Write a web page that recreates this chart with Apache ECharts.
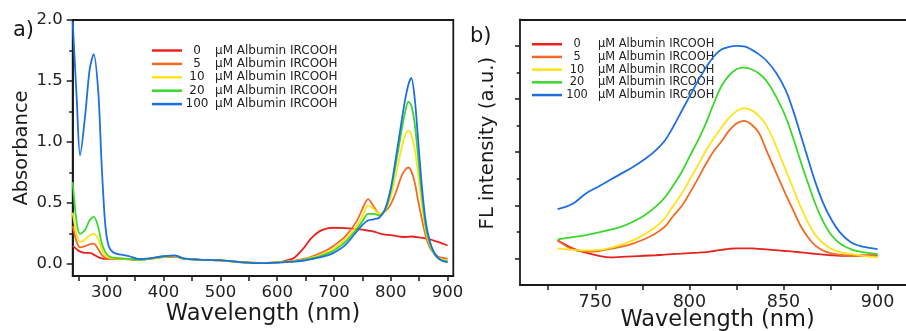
<!DOCTYPE html>
<html>
<head>
<meta charset="utf-8">
<script src="https://cdn.jsdelivr.net/npm/echarts@6/dist/echarts.min.js"></script>
<style>
  html, body { margin: 0; padding: 0; background: #fff; }
  #chart { width: 906px; height: 331px; }
</style>
</head>
<body>
<div id="chart"></div>
<script>
// Albumin concentrations (µM) and the legend text that follows them
const concentrations = ['0', '5', '10', '20', '100'];
const legendUnit = 'μM Albumin IRCOOH';
const lineColors = ['#e8231f', '#f26a24', '#ffe31a', '#3ad82c', '#1f6fe2'];

// (a) absorption spectra
const absWavelength = [240, 247, 253, 262, 270, 277, 285, 291, 297, 303,
  311, 325, 340, 355, 375, 400, 420, 435, 460, 500,
  540, 570, 600, 615, 630, 645, 660, 675, 690, 700,
  720, 740, 750, 760, 770, 780, 790, 800, 810, 818,
  825, 831, 836, 842, 848, 855, 862, 869, 876, 883,
  890, 900];
const abs0 = [0.15, 0.12, 0.10, 0.09, 0.09, 0.075, 0.055, 0.045, 0.04, 0.04,
  0.04, 0.04, 0.037, 0.032, 0.04, 0.055, 0.06, 0.042, 0.035, 0.028,
  0.012, 0.008, 0.012, 0.025, 0.05, 0.12, 0.21, 0.268, 0.292, 0.296,
  0.293, 0.285, 0.28, 0.272, 0.265, 0.25, 0.24, 0.235, 0.228, 0.222,
  0.22, 0.222, 0.224, 0.222, 0.218, 0.213, 0.207, 0.20, 0.19, 0.18,
  0.168, 0.15];
const abs5 = [0.31, 0.18, 0.135, 0.145, 0.16, 0.165, 0.12, 0.075, 0.05, 0.045,
  0.042, 0.04, 0.038, 0.032, 0.042, 0.058, 0.063, 0.042, 0.035, 0.028,
  0.012, 0.007, 0.012, 0.018, 0.025, 0.038, 0.058, 0.085, 0.12, 0.15,
  0.225, 0.35, 0.45, 0.53, 0.47, 0.41, 0.43, 0.49, 0.60, 0.71,
  0.77, 0.79, 0.76, 0.67, 0.52, 0.36, 0.22, 0.13, 0.085, 0.06,
  0.05, 0.04];
const abs10 = [0.42, 0.24, 0.18, 0.20, 0.235, 0.245, 0.20, 0.12, 0.07, 0.05,
  0.045, 0.042, 0.04, 0.032, 0.042, 0.058, 0.063, 0.042, 0.035, 0.028,
  0.012, 0.006, 0.011, 0.016, 0.022, 0.033, 0.05, 0.07, 0.10, 0.125,
  0.20, 0.31, 0.39, 0.48, 0.45, 0.41, 0.44, 0.55, 0.75, 0.93,
  1.05, 1.09, 1.06, 0.94, 0.74, 0.47, 0.26, 0.15, 0.085, 0.05,
  0.035, 0.028];
const abs20 = [0.67, 0.34, 0.245, 0.28, 0.36, 0.385, 0.30, 0.17, 0.10, 0.065,
  0.05, 0.045, 0.04, 0.032, 0.042, 0.06, 0.065, 0.042, 0.035, 0.028,
  0.012, 0.005, 0.01, 0.015, 0.02, 0.03, 0.045, 0.062, 0.088, 0.11,
  0.18, 0.285, 0.35, 0.41, 0.41, 0.395, 0.44, 0.60, 0.85, 1.07,
  1.24, 1.33, 1.30, 1.15, 0.88, 0.55, 0.29, 0.16, 0.085, 0.045,
  0.03, 0.022];
const abs100 = [1.99, 1.36, 0.89, 1.22, 1.60, 1.72, 1.41, 0.81, 0.34, 0.15,
  0.095, 0.075, 0.062, 0.04, 0.045, 0.062, 0.07, 0.045, 0.035, 0.03,
  0.012, 0.005, 0.01, 0.013, 0.018, 0.025, 0.038, 0.052, 0.072, 0.09,
  0.155, 0.265, 0.32, 0.355, 0.365, 0.38, 0.45, 0.62, 0.90, 1.14,
  1.34, 1.47, 1.525, 1.36, 1.02, 0.62, 0.33, 0.18, 0.095, 0.05,
  0.025, 0.012];

// (b) fluorescence emission spectra (arbitrary units)
const flWavelength = [730, 738, 745, 752, 758, 764, 770, 776, 782, 787,
  791, 796, 800, 805, 809, 813, 817, 821, 825, 829,
  833, 837, 841, 846, 851, 855, 859, 863, 867, 871,
  875, 880, 886, 892, 900];
const fl0 = [0.34, 0.19, 0.11, 0.05, 0.02, 0.03, 0.04, 0.05, 0.06, 0.07,
  0.08, 0.09, 0.10, 0.11, 0.12, 0.14, 0.16, 0.18, 0.19, 0.19,
  0.19, 0.18, 0.17, 0.155, 0.14, 0.13, 0.115, 0.10, 0.085, 0.07,
  0.06, 0.05, 0.05, 0.055, 0.06];
const fl5 = [0.34, 0.17, 0.13, 0.14, 0.18, 0.22, 0.28, 0.36, 0.47, 0.60,
  0.78, 0.99, 1.22, 1.53, 1.79, 2.02, 2.20, 2.40, 2.54, 2.59,
  2.52, 2.36, 2.03, 1.62, 1.22, 0.92, 0.62, 0.40, 0.24, 0.15,
  0.10, 0.065, 0.05, 0.05, 0.05];
const fl10 = [0.19, 0.16, 0.15, 0.16, 0.20, 0.26, 0.34, 0.45, 0.59, 0.76,
  0.97, 1.22, 1.47, 1.78, 2.04, 2.26, 2.46, 2.64, 2.77, 2.83,
  2.79, 2.68, 2.50, 2.12, 1.68, 1.33, 0.98, 0.68, 0.44, 0.29,
  0.19, 0.12, 0.08, 0.05, 0.02];
const fl20 = [0.36, 0.40, 0.44, 0.49, 0.54, 0.60, 0.69, 0.81, 0.97, 1.15,
  1.35, 1.63, 1.91, 2.25, 2.56, 2.92, 3.24, 3.44, 3.56, 3.59,
  3.56, 3.48, 3.34, 3.05, 2.68, 2.28, 1.84, 1.42, 1.02, 0.70,
  0.46, 0.28, 0.17, 0.12, 0.08];
const fl100 = [0.93, 1.03, 1.22, 1.36, 1.48, 1.60, 1.72, 1.86, 2.03, 2.22,
  2.45, 2.78, 3.04, 3.37, 3.60, 3.80, 3.93, 3.98, 4.00, 3.99,
  3.93, 3.84, 3.72, 3.50, 3.18, 2.80, 2.34, 1.88, 1.43, 1.05,
  0.76, 0.49, 0.30, 0.22, 0.175];

// tick positions
const absXLabels = [300, 400, 500, 600, 700, 800, 900];
const absXTicks = [250, 300, 350, 400, 450, 500, 550, 600, 650, 700, 750, 800, 850, 900];
const absYLabels = [0, 0.5, 1.0, 1.5, 2.0];
const absYMinor = [0.25, 0.75, 1.25, 1.75];
const flXLabels = [750, 800, 850, 900];
const flXTicks = [725, 750, 775, 800, 825, 850, 875, 900];
const flYMajor = [0, 1, 2, 3, 4];
const flYMinor = [0.5, 1.5, 2.5, 3.5];

const absSeriesValues = [abs0, abs5, abs10, abs20, abs100];
const flSeriesValues = [fl0, fl5, fl10, fl20, fl100];

const FONT = 'DejaVu Sans';
const INK = '#1a1a1a';
const pair = (xs, ys) => xs.map((x, i) => [x, ys[i]]);

// plot boxes
const boxA = { left: 72.7, top: 20, width: 380.6, height: 256 };
const boxB = { left: 520, top: 19.3, width: 395.2, height: 265.7 };

function legendFor(left, top, rowH, gap, size, numPad) {
  return {
    data: concentrations,
    orient: 'vertical',
    left: left, top: top,
    padding: 0,
    itemGap: gap,
    itemWidth: 30,
    itemHeight: 2.5,
    icon: 'rect',
    selectedMode: false,
    formatter: name => `{n|${name}}{t|${legendUnit}}`,
    textStyle: {
      fontFamily: FONT, fontSize: size, color: '#222', lineHeight: rowH,
      rich: {
        n: { width: 20, align: 'center', fontFamily: FONT, fontSize: size, color: '#222', lineHeight: rowH },
        t: { padding: [0, 0, 0, numPad], fontFamily: FONT, fontSize: size, color: '#222', lineHeight: rowH }
      }
    }
  };
}

const frameLine = { show: true, onZero: false, lineStyle: { color: INK, width: 1.8 } };

// shorter minor ticks: a second value axis moved onto the left edge of the box
function minorTickAxis(gridIndex, min, max, values, len, boxWidth) {
  return {
    type: 'value', gridIndex: gridIndex, min: min, max: max,
    position: 'right', offset: -boxWidth,
    axisLine: { show: false, onZero: false },
    axisTick: { show: true, inside: true, length: len, customValues: values, lineStyle: { color: INK, width: 1.5 } },
    axisLabel: { show: false },
    splitLine: { show: false }
  };
}

const series = [];
concentrations.forEach((c, i) => {
  series.push({
    name: c, type: 'line', xAxisIndex: 0, yAxisIndex: 0,
    data: pair(absWavelength, absSeriesValues[i]),
    showSymbol: false, smooth: 0.3,
    lineStyle: { color: lineColors[i], width: 1.8 },
    itemStyle: { color: lineColors[i] },
    z: 2 + i
  });
});
concentrations.forEach((c, i) => {
  series.push({
    name: c, type: 'line', xAxisIndex: 1, yAxisIndex: 2,
    data: pair(flWavelength, flSeriesValues[i]),
    showSymbol: false, smooth: 0.4,
    lineStyle: { color: lineColors[i], width: 1.8 },
    itemStyle: { color: lineColors[i] },
    z: 2 + i
  });
});

const option = {
  animation: false,
  backgroundColor: '#ffffff',
  title: [
    { text: 'a)', left: 8, top: 15, textStyle: { fontFamily: FONT, fontSize: 21, fontWeight: 'normal', color: INK } },
    { text: 'b)', left: 465, top: 21, textStyle: { fontFamily: FONT, fontSize: 21, fontWeight: 'normal', color: INK } }
  ],
  legend: [
    legendFor(152, 44, 13, 0.4, 12, 8),
    legendFor(532, 38, 12.5, 0.2, 11.4, 11)
  ],
  grid: [
    Object.assign({ show: true, borderColor: INK, borderWidth: 1.8, outerBoundsMode: 'none', containLabel: false }, boxA),
    Object.assign({ show: false, outerBoundsMode: 'none', containLabel: false }, boxB)
  ],
  xAxis: [
    {
      type: 'value', gridIndex: 0, min: 240, max: 910,
      name: 'Wavelength (nm)', nameLocation: 'middle', nameGap: 27, nameMoveOverlap: false,
      nameTextStyle: { fontFamily: FONT, fontSize: 22.5, color: INK },
      axisLine: frameLine,
      axisTick: { show: true, length: 5, customValues: absXTicks, lineStyle: { color: INK, width: 1.5 } },
      axisLabel: { customValues: absXLabels, margin: 8, fontFamily: FONT, fontSize: 16.5, color: '#222' },
      splitLine: { show: false }
    },
    {
      type: 'value', gridIndex: 1, min: 710, max: 920,
      name: 'Wavelength (nm)', nameLocation: 'middle', nameGap: 24, nameMoveOverlap: false,
      nameTextStyle: { fontFamily: FONT, fontSize: 22.5, color: INK },
      axisLine: frameLine,
      axisTick: { show: true, length: 5, customValues: flXTicks, lineStyle: { color: INK, width: 1.5 } },
      axisLabel: { customValues: flXLabels, margin: 8, fontFamily: FONT, fontSize: 17.5, color: '#222' },
      splitLine: { show: false }
    },
    {
      // top edge of the (b) frame
      type: 'value', gridIndex: 1, min: 710, max: 920, position: 'top',
      axisLine: frameLine,
      axisTick: { show: false }, axisLabel: { show: false }, splitLine: { show: false }
    }
  ],
  yAxis: [
    {
      type: 'value', gridIndex: 0, min: -0.1, max: 2.0,
      name: 'Absorbance', nameLocation: 'middle', nameGap: 41, nameMoveOverlap: false,
      nameTextStyle: { fontFamily: FONT, fontSize: 19.5, color: INK },
      axisLine: frameLine,
      axisTick: { show: true, length: 6, customValues: absYLabels, lineStyle: { color: INK, width: 1.5 } },
      axisLabel: { customValues: absYLabels, margin: 10, fontFamily: FONT, fontSize: 16.5, color: '#222',
        formatter: v => v.toFixed(1) },
      splitLine: { show: false }
    },
    minorTickAxis(0, -0.1, 2.0, absYMinor, 3.5, boxA.width),
    {
      type: 'value', gridIndex: 1, min: -0.5, max: 4.5,
      name: 'FL intensity (a.u.)', nameLocation: 'middle', nameGap: 22, nameMoveOverlap: false,
      nameTextStyle: { fontFamily: FONT, fontSize: 19.7, color: INK, padding: [0, 0, 0, 18] },
      axisLine: frameLine,
      axisTick: { show: true, length: 5, customValues: flYMajor, lineStyle: { color: INK, width: 1.5 } },
      axisLabel: { show: false },
      splitLine: { show: false }
    },
    minorTickAxis(1, -0.5, 4.5, flYMinor, 3.3, boxB.width)
  ],
  series: series
};

const chart = echarts.init(document.getElementById('chart'), null, { renderer: 'canvas' });
chart.setOption(option);
</script>
</body>
</html>
